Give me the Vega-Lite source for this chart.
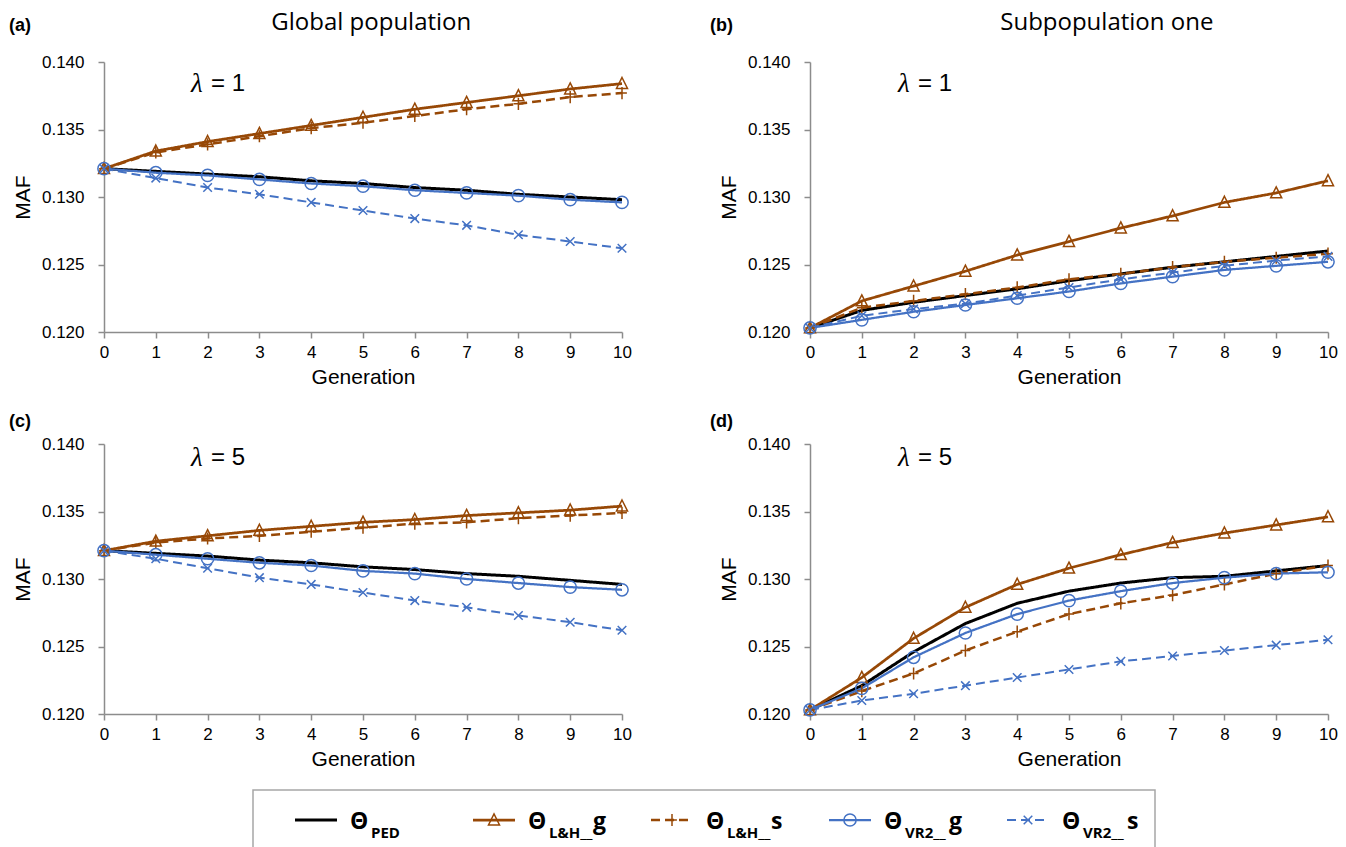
{
  "$schema": "https://vega.github.io/schema/vega-lite/v6.json",
  "padding": {"left": 8, "top": 10, "right": 5, "bottom": 0},
  "background": "white",
  "config": {
    "view": {"stroke": null},
    "legend": {"disable": true},
    "axis": {"grid": false, "domainColor": "#8c8c8c", "domainWidth": 1.5, "tickColor": "#8c8c8c", "tickWidth": 1.5, "tickSize": 6,
      "labelFont": "Liberation Sans", "labelFontSize": 17, "labelColor": "#000", "labelFlush": false, "labelOverlap": false,
      "titleFont": "Liberation Sans", "titleFontSize": 21, "titleFontWeight": "normal", "titleColor": "#000"},
    "axisX": {"labelPadding": 6, "titlePadding": 6},
    "axisY": {"labelPadding": 14, "titlePadding": 8}
  },
  "datasets": {
    "maf": [
      {"p":"a","s":"PED","g":0,"v":0.1321},{"p":"a","s":"PED","g":1,"v":0.1319},{"p":"a","s":"PED","g":2,"v":0.1317},{"p":"a","s":"PED","g":3,"v":0.1315},{"p":"a","s":"PED","g":4,"v":0.1312},{"p":"a","s":"PED","g":5,"v":0.1310},{"p":"a","s":"PED","g":6,"v":0.1307},{"p":"a","s":"PED","g":7,"v":0.1305},{"p":"a","s":"PED","g":8,"v":0.1302},{"p":"a","s":"PED","g":9,"v":0.1300},{"p":"a","s":"PED","g":10,"v":0.1298},
      {"p":"a","s":"LHg","g":0,"v":0.1321},{"p":"a","s":"LHg","g":1,"v":0.1334},{"p":"a","s":"LHg","g":2,"v":0.1341},{"p":"a","s":"LHg","g":3,"v":0.1347},{"p":"a","s":"LHg","g":4,"v":0.1353},{"p":"a","s":"LHg","g":5,"v":0.1359},{"p":"a","s":"LHg","g":6,"v":0.1365},{"p":"a","s":"LHg","g":7,"v":0.1370},{"p":"a","s":"LHg","g":8,"v":0.1375},{"p":"a","s":"LHg","g":9,"v":0.1380},{"p":"a","s":"LHg","g":10,"v":0.1384},
      {"p":"a","s":"LHs","g":0,"v":0.1321},{"p":"a","s":"LHs","g":1,"v":0.1333},{"p":"a","s":"LHs","g":2,"v":0.1339},{"p":"a","s":"LHs","g":3,"v":0.1345},{"p":"a","s":"LHs","g":4,"v":0.1351},{"p":"a","s":"LHs","g":5,"v":0.1355},{"p":"a","s":"LHs","g":6,"v":0.1360},{"p":"a","s":"LHs","g":7,"v":0.1365},{"p":"a","s":"LHs","g":8,"v":0.1369},{"p":"a","s":"LHs","g":9,"v":0.1374},{"p":"a","s":"LHs","g":10,"v":0.1377},
      {"p":"a","s":"VRg","g":0,"v":0.1321},{"p":"a","s":"VRg","g":1,"v":0.1318},{"p":"a","s":"VRg","g":2,"v":0.1316},{"p":"a","s":"VRg","g":3,"v":0.1313},{"p":"a","s":"VRg","g":4,"v":0.1310},{"p":"a","s":"VRg","g":5,"v":0.1308},{"p":"a","s":"VRg","g":6,"v":0.1305},{"p":"a","s":"VRg","g":7,"v":0.1303},{"p":"a","s":"VRg","g":8,"v":0.1301},{"p":"a","s":"VRg","g":9,"v":0.1298},{"p":"a","s":"VRg","g":10,"v":0.1296},
      {"p":"a","s":"VRs","g":0,"v":0.1321},{"p":"a","s":"VRs","g":1,"v":0.1314},{"p":"a","s":"VRs","g":2,"v":0.1307},{"p":"a","s":"VRs","g":3,"v":0.1302},{"p":"a","s":"VRs","g":4,"v":0.1296},{"p":"a","s":"VRs","g":5,"v":0.1290},{"p":"a","s":"VRs","g":6,"v":0.1284},{"p":"a","s":"VRs","g":7,"v":0.1279},{"p":"a","s":"VRs","g":8,"v":0.1272},{"p":"a","s":"VRs","g":9,"v":0.1267},{"p":"a","s":"VRs","g":10,"v":0.1262},

      {"p":"b","s":"PED","g":0,"v":0.1203},{"p":"b","s":"PED","g":1,"v":0.1216},{"p":"b","s":"PED","g":2,"v":0.1222},{"p":"b","s":"PED","g":3,"v":0.1227},{"p":"b","s":"PED","g":4,"v":0.1232},{"p":"b","s":"PED","g":5,"v":0.1238},{"p":"b","s":"PED","g":6,"v":0.1243},{"p":"b","s":"PED","g":7,"v":0.1248},{"p":"b","s":"PED","g":8,"v":0.1252},{"p":"b","s":"PED","g":9,"v":0.1256},{"p":"b","s":"PED","g":10,"v":0.1260},
      {"p":"b","s":"LHg","g":0,"v":0.1203},{"p":"b","s":"LHg","g":1,"v":0.1223},{"p":"b","s":"LHg","g":2,"v":0.1234},{"p":"b","s":"LHg","g":3,"v":0.1245},{"p":"b","s":"LHg","g":4,"v":0.1257},{"p":"b","s":"LHg","g":5,"v":0.1267},{"p":"b","s":"LHg","g":6,"v":0.1277},{"p":"b","s":"LHg","g":7,"v":0.1286},{"p":"b","s":"LHg","g":8,"v":0.1296},{"p":"b","s":"LHg","g":9,"v":0.1303},{"p":"b","s":"LHg","g":10,"v":0.1312},
      {"p":"b","s":"LHs","g":0,"v":0.1203},{"p":"b","s":"LHs","g":1,"v":0.1218},{"p":"b","s":"LHs","g":2,"v":0.1223},{"p":"b","s":"LHs","g":3,"v":0.1228},{"p":"b","s":"LHs","g":4,"v":0.1233},{"p":"b","s":"LHs","g":5,"v":0.1239},{"p":"b","s":"LHs","g":6,"v":0.1243},{"p":"b","s":"LHs","g":7,"v":0.1248},{"p":"b","s":"LHs","g":8,"v":0.1252},{"p":"b","s":"LHs","g":9,"v":0.1255},{"p":"b","s":"LHs","g":10,"v":0.1258},
      {"p":"b","s":"VRg","g":0,"v":0.1203},{"p":"b","s":"VRg","g":1,"v":0.1209},{"p":"b","s":"VRg","g":2,"v":0.1215},{"p":"b","s":"VRg","g":3,"v":0.1220},{"p":"b","s":"VRg","g":4,"v":0.1225},{"p":"b","s":"VRg","g":5,"v":0.1230},{"p":"b","s":"VRg","g":6,"v":0.1236},{"p":"b","s":"VRg","g":7,"v":0.1241},{"p":"b","s":"VRg","g":8,"v":0.1246},{"p":"b","s":"VRg","g":9,"v":0.1249},{"p":"b","s":"VRg","g":10,"v":0.1252},
      {"p":"b","s":"VRs","g":0,"v":0.1203},{"p":"b","s":"VRs","g":1,"v":0.1212},{"p":"b","s":"VRs","g":2,"v":0.1217},{"p":"b","s":"VRs","g":3,"v":0.1221},{"p":"b","s":"VRs","g":4,"v":0.1227},{"p":"b","s":"VRs","g":5,"v":0.1233},{"p":"b","s":"VRs","g":6,"v":0.1239},{"p":"b","s":"VRs","g":7,"v":0.1244},{"p":"b","s":"VRs","g":8,"v":0.1249},{"p":"b","s":"VRs","g":9,"v":0.1253},{"p":"b","s":"VRs","g":10,"v":0.1256},

      {"p":"c","s":"PED","g":0,"v":0.1321},{"p":"c","s":"PED","g":1,"v":0.1319},{"p":"c","s":"PED","g":2,"v":0.1317},{"p":"c","s":"PED","g":3,"v":0.1314},{"p":"c","s":"PED","g":4,"v":0.1312},{"p":"c","s":"PED","g":5,"v":0.1309},{"p":"c","s":"PED","g":6,"v":0.1307},{"p":"c","s":"PED","g":7,"v":0.1304},{"p":"c","s":"PED","g":8,"v":0.1302},{"p":"c","s":"PED","g":9,"v":0.1299},{"p":"c","s":"PED","g":10,"v":0.1296},
      {"p":"c","s":"LHg","g":0,"v":0.1321},{"p":"c","s":"LHg","g":1,"v":0.1328},{"p":"c","s":"LHg","g":2,"v":0.1332},{"p":"c","s":"LHg","g":3,"v":0.1336},{"p":"c","s":"LHg","g":4,"v":0.1339},{"p":"c","s":"LHg","g":5,"v":0.1342},{"p":"c","s":"LHg","g":6,"v":0.1344},{"p":"c","s":"LHg","g":7,"v":0.1347},{"p":"c","s":"LHg","g":8,"v":0.1349},{"p":"c","s":"LHg","g":9,"v":0.1351},{"p":"c","s":"LHg","g":10,"v":0.1354},
      {"p":"c","s":"LHs","g":0,"v":0.1321},{"p":"c","s":"LHs","g":1,"v":0.1327},{"p":"c","s":"LHs","g":2,"v":0.1330},{"p":"c","s":"LHs","g":3,"v":0.1332},{"p":"c","s":"LHs","g":4,"v":0.1335},{"p":"c","s":"LHs","g":5,"v":0.1338},{"p":"c","s":"LHs","g":6,"v":0.1341},{"p":"c","s":"LHs","g":7,"v":0.1342},{"p":"c","s":"LHs","g":8,"v":0.1345},{"p":"c","s":"LHs","g":9,"v":0.1347},{"p":"c","s":"LHs","g":10,"v":0.1349},
      {"p":"c","s":"VRg","g":0,"v":0.1321},{"p":"c","s":"VRg","g":1,"v":0.1318},{"p":"c","s":"VRg","g":2,"v":0.1315},{"p":"c","s":"VRg","g":3,"v":0.1312},{"p":"c","s":"VRg","g":4,"v":0.1310},{"p":"c","s":"VRg","g":5,"v":0.1306},{"p":"c","s":"VRg","g":6,"v":0.1304},{"p":"c","s":"VRg","g":7,"v":0.1300},{"p":"c","s":"VRg","g":8,"v":0.1297},{"p":"c","s":"VRg","g":9,"v":0.1294},{"p":"c","s":"VRg","g":10,"v":0.1292},
      {"p":"c","s":"VRs","g":0,"v":0.1321},{"p":"c","s":"VRs","g":1,"v":0.1315},{"p":"c","s":"VRs","g":2,"v":0.1308},{"p":"c","s":"VRs","g":3,"v":0.1301},{"p":"c","s":"VRs","g":4,"v":0.1296},{"p":"c","s":"VRs","g":5,"v":0.1290},{"p":"c","s":"VRs","g":6,"v":0.1284},{"p":"c","s":"VRs","g":7,"v":0.1279},{"p":"c","s":"VRs","g":8,"v":0.1273},{"p":"c","s":"VRs","g":9,"v":0.1268},{"p":"c","s":"VRs","g":10,"v":0.1262},

      {"p":"d","s":"PED","g":0,"v":0.1203},{"p":"d","s":"PED","g":1,"v":0.1221},{"p":"d","s":"PED","g":2,"v":0.1246},{"p":"d","s":"PED","g":3,"v":0.1267},{"p":"d","s":"PED","g":4,"v":0.1282},{"p":"d","s":"PED","g":5,"v":0.1291},{"p":"d","s":"PED","g":6,"v":0.1297},{"p":"d","s":"PED","g":7,"v":0.1301},{"p":"d","s":"PED","g":8,"v":0.1302},{"p":"d","s":"PED","g":9,"v":0.1306},{"p":"d","s":"PED","g":10,"v":0.1310},
      {"p":"d","s":"LHg","g":0,"v":0.1203},{"p":"d","s":"LHg","g":1,"v":0.1227},{"p":"d","s":"LHg","g":2,"v":0.1256},{"p":"d","s":"LHg","g":3,"v":0.1279},{"p":"d","s":"LHg","g":4,"v":0.1296},{"p":"d","s":"LHg","g":5,"v":0.1308},{"p":"d","s":"LHg","g":6,"v":0.1318},{"p":"d","s":"LHg","g":7,"v":0.1327},{"p":"d","s":"LHg","g":8,"v":0.1334},{"p":"d","s":"LHg","g":9,"v":0.1340},{"p":"d","s":"LHg","g":10,"v":0.1346},
      {"p":"d","s":"LHs","g":0,"v":0.1203},{"p":"d","s":"LHs","g":1,"v":0.1217},{"p":"d","s":"LHs","g":2,"v":0.1230},{"p":"d","s":"LHs","g":3,"v":0.1247},{"p":"d","s":"LHs","g":4,"v":0.1261},{"p":"d","s":"LHs","g":5,"v":0.1274},{"p":"d","s":"LHs","g":6,"v":0.1282},{"p":"d","s":"LHs","g":7,"v":0.1288},{"p":"d","s":"LHs","g":8,"v":0.1296},{"p":"d","s":"LHs","g":9,"v":0.1304},{"p":"d","s":"LHs","g":10,"v":0.1310},
      {"p":"d","s":"VRg","g":0,"v":0.1203},{"p":"d","s":"VRg","g":1,"v":0.1219},{"p":"d","s":"VRg","g":2,"v":0.1242},{"p":"d","s":"VRg","g":3,"v":0.1260},{"p":"d","s":"VRg","g":4,"v":0.1274},{"p":"d","s":"VRg","g":5,"v":0.1284},{"p":"d","s":"VRg","g":6,"v":0.1291},{"p":"d","s":"VRg","g":7,"v":0.1297},{"p":"d","s":"VRg","g":8,"v":0.1301},{"p":"d","s":"VRg","g":9,"v":0.1304},{"p":"d","s":"VRg","g":10,"v":0.1305},
      {"p":"d","s":"VRs","g":0,"v":0.1203},{"p":"d","s":"VRs","g":1,"v":0.1210},{"p":"d","s":"VRs","g":2,"v":0.1215},{"p":"d","s":"VRs","g":3,"v":0.1221},{"p":"d","s":"VRs","g":4,"v":0.1227},{"p":"d","s":"VRs","g":5,"v":0.1233},{"p":"d","s":"VRs","g":6,"v":0.1239},{"p":"d","s":"VRs","g":7,"v":0.1243},{"p":"d","s":"VRs","g":8,"v":0.1247},{"p":"d","s":"VRs","g":9,"v":0.1251},{"p":"d","s":"VRs","g":10,"v":0.1255}
    ],
    "leg": [
      {"s":"PED","sub":"PED","suf":""},
      {"s":"LHg","sub":"L&H__","suf":"g"},
      {"s":"LHs","sub":"L&H__","suf":"s"},
      {"s":"VRg","sub":"VR2__","suf":"g"},
      {"s":"VRs","sub":"VR2__","suf":"s"}
    ]
  },
  "center": false,
  "vconcat": [
    {
      "spacing": 25,
      "center": false,
      "vconcat": [
        {
          "spacing": 78,
          "hconcat": [
            {
              "width": 518, "height": 270,
              "layer": [
                {"data": {"name": "maf"}, "transform": [{"filter": "datum.p == 'a'"}],
                 "mark": {"type": "line"},
                 "encoding": {
                   "x": {"field": "g", "type": "quantitative", "scale": {"domain": [0, 10], "nice": false}, "axis": {"values": [0,1,2,3,4,5,6,7,8,9,10], "format": "d", "title": "Generation"}},
                   "y": {"field": "v", "type": "quantitative", "scale": {"domain": [0.12, 0.14], "zero": false, "nice": false}, "axis": {"values": [0.12,0.125,0.13,0.135,0.14], "format": ".3f", "title": "MAF"}},
                   "color": {"field": "s", "type": "nominal", "scale": {"domain": ["PED","LHg","LHs","VRg","VRs"], "range": ["#000000","#974806","#974806","#4472C4","#4472C4"]}},
                   "strokeDash": {"field": "s", "type": "nominal", "scale": {"domain": ["PED","LHg","LHs","VRg","VRs"], "range": [[1,0],[1,0],[9,5],[1,0],[9,5]]}},
                   "strokeWidth": {"field": "s", "type": "ordinal", "scale": {"domain": ["PED","LHg","LHs","VRg","VRs"], "range": [3,2,2.5,2,2.5]}}
                 }},
                {"data": {"name": "maf"}, "transform": [{"filter": "datum.p == 'a' && datum.s != 'PED'"}],
                 "mark": {"type": "point", "filled": false, "strokeWidth": 1.5, "size": 150, "opacity": 1},
                 "encoding": {
                   "x": {"field": "g", "type": "quantitative"},
                   "y": {"field": "v", "type": "quantitative"},
                   "color": {"field": "s", "type": "nominal"},
                   "shape": {"field": "s", "type": "nominal", "scale": {"domain": ["PED","LHg","LHs","VRg","VRs"], "range": ["M0,0","M0,-1L0.9,0.8L-0.9,0.8Z","M-0.8,0L0.8,0M0,-1L0,1","circle","M-0.7,-0.7L0.7,0.7M-0.7,0.7L0.7,-0.7"]}}
                 }},
                {"data": {"values": [{}]},
                 "mark": {"type": "text", "text": "λ", "font": "Liberation Serif", "fontStyle": "italic", "fontSize": 27, "align": "left", "baseline": "middle"},
                 "encoding": {"x": {"datum": 1.68, "type": "quantitative"}, "y": {"datum": 0.13837, "type": "quantitative"}}},
                {"data": {"values": [{}]},
                 "mark": {"type": "text", "text": "= 1", "font": "Liberation Sans", "fontSize": 24, "align": "left", "baseline": "middle", "dx": 20},
                 "encoding": {"x": {"datum": 1.68, "type": "quantitative"}, "y": {"datum": 0.13837, "type": "quantitative"}}},
                {"data": {"values": [{}]},
                 "mark": {"type": "text", "text": "Global population", "font": "Open Sans", "fontSize": 24, "align": "center", "baseline": "middle"},
                 "encoding": {"x": {"datum": 5.16, "type": "quantitative"}, "y": {"datum": 0.14289, "type": "quantitative"}}},
                {"data": {"values": [{}]},
                 "mark": {"type": "text", "text": "(a)", "font": "Liberation Sans", "fontWeight": "bold", "fontSize": 18, "align": "left", "baseline": "middle"},
                 "encoding": {"x": {"datum": -1.834, "type": "quantitative"}, "y": {"datum": 0.14267, "type": "quantitative"}}}
              ]
            },
            {
              "width": 518, "height": 270,
              "layer": [
                {"data": {"name": "maf"}, "transform": [{"filter": "datum.p == 'b'"}],
                 "mark": {"type": "line"},
                 "encoding": {
                   "x": {"field": "g", "type": "quantitative", "scale": {"domain": [0, 10], "nice": false}, "axis": {"values": [0,1,2,3,4,5,6,7,8,9,10], "format": "d", "title": "Generation"}},
                   "y": {"field": "v", "type": "quantitative", "scale": {"domain": [0.12, 0.14], "zero": false, "nice": false}, "axis": {"values": [0.12,0.125,0.13,0.135,0.14], "format": ".3f", "title": "MAF"}},
                   "color": {"field": "s", "type": "nominal", "scale": {"domain": ["PED","LHg","LHs","VRg","VRs"], "range": ["#000000","#974806","#974806","#4472C4","#4472C4"]}},
                   "strokeDash": {"field": "s", "type": "nominal", "scale": {"domain": ["PED","LHg","LHs","VRg","VRs"], "range": [[1,0],[1,0],[9,5],[1,0],[9,5]]}},
                   "strokeWidth": {"field": "s", "type": "ordinal", "scale": {"domain": ["PED","LHg","LHs","VRg","VRs"], "range": [3,2,2.5,2,2.5]}}
                 }},
                {"data": {"name": "maf"}, "transform": [{"filter": "datum.p == 'b' && datum.s != 'PED'"}],
                 "mark": {"type": "point", "filled": false, "strokeWidth": 1.5, "size": 150, "opacity": 1},
                 "encoding": {
                   "x": {"field": "g", "type": "quantitative"},
                   "y": {"field": "v", "type": "quantitative"},
                   "color": {"field": "s", "type": "nominal"},
                   "shape": {"field": "s", "type": "nominal", "scale": {"domain": ["PED","LHg","LHs","VRg","VRs"], "range": ["M0,0","M0,-1L0.9,0.8L-0.9,0.8Z","M-0.8,0L0.8,0M0,-1L0,1","circle","M-0.7,-0.7L0.7,0.7M-0.7,0.7L0.7,-0.7"]}}
                 }},
                {"data": {"values": [{}]},
                 "mark": {"type": "text", "text": "λ", "font": "Liberation Serif", "fontStyle": "italic", "fontSize": 27, "align": "left", "baseline": "middle"},
                 "encoding": {"x": {"datum": 1.70, "type": "quantitative"}, "y": {"datum": 0.13837, "type": "quantitative"}}},
                {"data": {"values": [{}]},
                 "mark": {"type": "text", "text": "= 1", "font": "Liberation Sans", "fontSize": 24, "align": "left", "baseline": "middle", "dx": 20},
                 "encoding": {"x": {"datum": 1.70, "type": "quantitative"}, "y": {"datum": 0.13837, "type": "quantitative"}}},
                {"data": {"values": [{}]},
                 "mark": {"type": "text", "text": "Subpopulation one", "font": "Open Sans", "fontSize": 24, "align": "center", "baseline": "middle"},
                 "encoding": {"x": {"datum": 5.73, "type": "quantitative"}, "y": {"datum": 0.14289, "type": "quantitative"}}},
                {"data": {"values": [{}]},
                 "mark": {"type": "text", "text": "(b)", "font": "Liberation Sans", "fontWeight": "bold", "fontSize": 18, "align": "left", "baseline": "middle"},
                 "encoding": {"x": {"datum": -1.93, "type": "quantitative"}, "y": {"datum": 0.14267, "type": "quantitative"}}}
              ]
            }
          ]
        },
        {
          "spacing": 78,
          "hconcat": [
            {
              "width": 518, "height": 270,
              "layer": [
                {"data": {"name": "maf"}, "transform": [{"filter": "datum.p == 'c'"}],
                 "mark": {"type": "line"},
                 "encoding": {
                   "x": {"field": "g", "type": "quantitative", "scale": {"domain": [0, 10], "nice": false}, "axis": {"values": [0,1,2,3,4,5,6,7,8,9,10], "format": "d", "title": "Generation"}},
                   "y": {"field": "v", "type": "quantitative", "scale": {"domain": [0.12, 0.14], "zero": false, "nice": false}, "axis": {"values": [0.12,0.125,0.13,0.135,0.14], "format": ".3f", "title": "MAF"}},
                   "color": {"field": "s", "type": "nominal", "scale": {"domain": ["PED","LHg","LHs","VRg","VRs"], "range": ["#000000","#974806","#974806","#4472C4","#4472C4"]}},
                   "strokeDash": {"field": "s", "type": "nominal", "scale": {"domain": ["PED","LHg","LHs","VRg","VRs"], "range": [[1,0],[1,0],[9,5],[1,0],[9,5]]}},
                   "strokeWidth": {"field": "s", "type": "ordinal", "scale": {"domain": ["PED","LHg","LHs","VRg","VRs"], "range": [3,2,2.5,2,2.5]}}
                 }},
                {"data": {"name": "maf"}, "transform": [{"filter": "datum.p == 'c' && datum.s != 'PED'"}],
                 "mark": {"type": "point", "filled": false, "strokeWidth": 1.5, "size": 150, "opacity": 1},
                 "encoding": {
                   "x": {"field": "g", "type": "quantitative"},
                   "y": {"field": "v", "type": "quantitative"},
                   "color": {"field": "s", "type": "nominal"},
                   "shape": {"field": "s", "type": "nominal", "scale": {"domain": ["PED","LHg","LHs","VRg","VRs"], "range": ["M0,0","M0,-1L0.9,0.8L-0.9,0.8Z","M-0.8,0L0.8,0M0,-1L0,1","circle","M-0.7,-0.7L0.7,0.7M-0.7,0.7L0.7,-0.7"]}}
                 }},
                {"data": {"values": [{}]},
                 "mark": {"type": "text", "text": "λ", "font": "Liberation Serif", "fontStyle": "italic", "fontSize": 27, "align": "left", "baseline": "middle"},
                 "encoding": {"x": {"datum": 1.68, "type": "quantitative"}, "y": {"datum": 0.13896, "type": "quantitative"}}},
                {"data": {"values": [{}]},
                 "mark": {"type": "text", "text": "= 5", "font": "Liberation Sans", "fontSize": 24, "align": "left", "baseline": "middle", "dx": 20},
                 "encoding": {"x": {"datum": 1.68, "type": "quantitative"}, "y": {"datum": 0.13896, "type": "quantitative"}}},
                {"data": {"values": [{}]},
                 "mark": {"type": "text", "text": "(c)", "font": "Liberation Sans", "fontWeight": "bold", "fontSize": 18, "align": "left", "baseline": "middle"},
                 "encoding": {"x": {"datum": -1.834, "type": "quantitative"}, "y": {"datum": 0.14164, "type": "quantitative"}}}
              ]
            },
            {
              "width": 518, "height": 270,
              "layer": [
                {"data": {"name": "maf"}, "transform": [{"filter": "datum.p == 'd'"}],
                 "mark": {"type": "line"},
                 "encoding": {
                   "x": {"field": "g", "type": "quantitative", "scale": {"domain": [0, 10], "nice": false}, "axis": {"values": [0,1,2,3,4,5,6,7,8,9,10], "format": "d", "title": "Generation"}},
                   "y": {"field": "v", "type": "quantitative", "scale": {"domain": [0.12, 0.14], "zero": false, "nice": false}, "axis": {"values": [0.12,0.125,0.13,0.135,0.14], "format": ".3f", "title": "MAF"}},
                   "color": {"field": "s", "type": "nominal", "scale": {"domain": ["PED","LHg","LHs","VRg","VRs"], "range": ["#000000","#974806","#974806","#4472C4","#4472C4"]}},
                   "strokeDash": {"field": "s", "type": "nominal", "scale": {"domain": ["PED","LHg","LHs","VRg","VRs"], "range": [[1,0],[1,0],[9,5],[1,0],[9,5]]}},
                   "strokeWidth": {"field": "s", "type": "ordinal", "scale": {"domain": ["PED","LHg","LHs","VRg","VRs"], "range": [3,2,2.5,2,2.5]}}
                 }},
                {"data": {"name": "maf"}, "transform": [{"filter": "datum.p == 'd' && datum.s != 'PED'"}],
                 "mark": {"type": "point", "filled": false, "strokeWidth": 1.5, "size": 150, "opacity": 1},
                 "encoding": {
                   "x": {"field": "g", "type": "quantitative"},
                   "y": {"field": "v", "type": "quantitative"},
                   "color": {"field": "s", "type": "nominal"},
                   "shape": {"field": "s", "type": "nominal", "scale": {"domain": ["PED","LHg","LHs","VRg","VRs"], "range": ["M0,0","M0,-1L0.9,0.8L-0.9,0.8Z","M-0.8,0L0.8,0M0,-1L0,1","circle","M-0.7,-0.7L0.7,0.7M-0.7,0.7L0.7,-0.7"]}}
                 }},
                {"data": {"values": [{}]},
                 "mark": {"type": "text", "text": "λ", "font": "Liberation Serif", "fontStyle": "italic", "fontSize": 27, "align": "left", "baseline": "middle"},
                 "encoding": {"x": {"datum": 1.70, "type": "quantitative"}, "y": {"datum": 0.13896, "type": "quantitative"}}},
                {"data": {"values": [{}]},
                 "mark": {"type": "text", "text": "= 5", "font": "Liberation Sans", "fontSize": 24, "align": "left", "baseline": "middle", "dx": 20},
                 "encoding": {"x": {"datum": 1.70, "type": "quantitative"}, "y": {"datum": 0.13896, "type": "quantitative"}}},
                {"data": {"values": [{}]},
                 "mark": {"type": "text", "text": "(d)", "font": "Liberation Sans", "fontWeight": "bold", "fontSize": 18, "align": "left", "baseline": "middle"},
                 "encoding": {"x": {"datum": -1.93, "type": "quantitative"}, "y": {"datum": 0.14164, "type": "quantitative"}}}
              ]
            }
          ]
        }
      ]
    },
    {
      "spacing": 0,
      "hconcat": [
        {"width": 148, "height": 60, "data": {"values": []}, "mark": "point", "view": {"stroke": null}},
        {
          "width": 902, "height": 60,
          "view": {"stroke": "#a6a6a6", "strokeWidth": 1.5},
          "data": {"name": "leg"},
          "encoding": {"x": {"field": "s", "type": "nominal", "scale": {"type": "point", "padding": 0, "domain": ["PED","LHg","LHs","VRg","VRs"], "range": [63, 775]}, "axis": null}},
          "layer": [
            {"mark": {"type": "point", "shape": "M-1,0L1,0", "size": 1764, "filled": false, "opacity": 1},
             "encoding": {
               "color": {"field": "s", "type": "nominal", "scale": {"domain": ["PED","LHg","LHs","VRg","VRs"], "range": ["#000000","#974806","#974806","#4472C4","#4472C4"]}},
               "strokeDash": {"field": "s", "type": "nominal", "scale": {"domain": ["PED","LHg","LHs","VRg","VRs"], "range": [[1,0],[1,0],[8,6],[1,0],[8,6]]}},
               "strokeWidth": {"field": "s", "type": "ordinal", "scale": {"domain": ["PED","LHg","LHs","VRg","VRs"], "range": [3.5,2,2.5,2,2.5]}}
             }},
            {"transform": [{"filter": "datum.s != 'PED'"}],
             "mark": {"type": "point", "filled": false, "strokeWidth": 1.5, "size": 150, "opacity": 1},
             "encoding": {
               "color": {"field": "s", "type": "nominal"},
               "shape": {"field": "s", "type": "nominal", "scale": {"domain": ["PED","LHg","LHs","VRg","VRs"], "range": ["M0,0","M0,-1L0.9,0.8L-0.9,0.8Z","M-0.8,0L0.8,0M0,-1L0,1","circle","M-0.7,-0.7L0.7,0.7M-0.7,0.7L0.7,-0.7"]}}
             }},
            {"mark": {"type": "text", "text": "Θ", "font": "Open Sans", "fontWeight": "bold", "fontSize": 23, "align": "left", "baseline": "alphabetic", "dx": 34, "dy": 9}},
            {"mark": {"type": "text", "font": "Open Sans", "fontWeight": "bold", "fontSize": 15, "align": "left", "baseline": "alphabetic", "dx": 55, "dy": 18},
             "encoding": {"text": {"field": "sub"}}},
            {"mark": {"type": "text", "font": "Open Sans", "fontWeight": "bold", "fontSize": 23, "align": "left", "baseline": "alphabetic", "dx": 99, "dy": 9},
             "encoding": {"text": {"field": "suf"}}}
          ]
        }
      ]
    }
  ]
}
